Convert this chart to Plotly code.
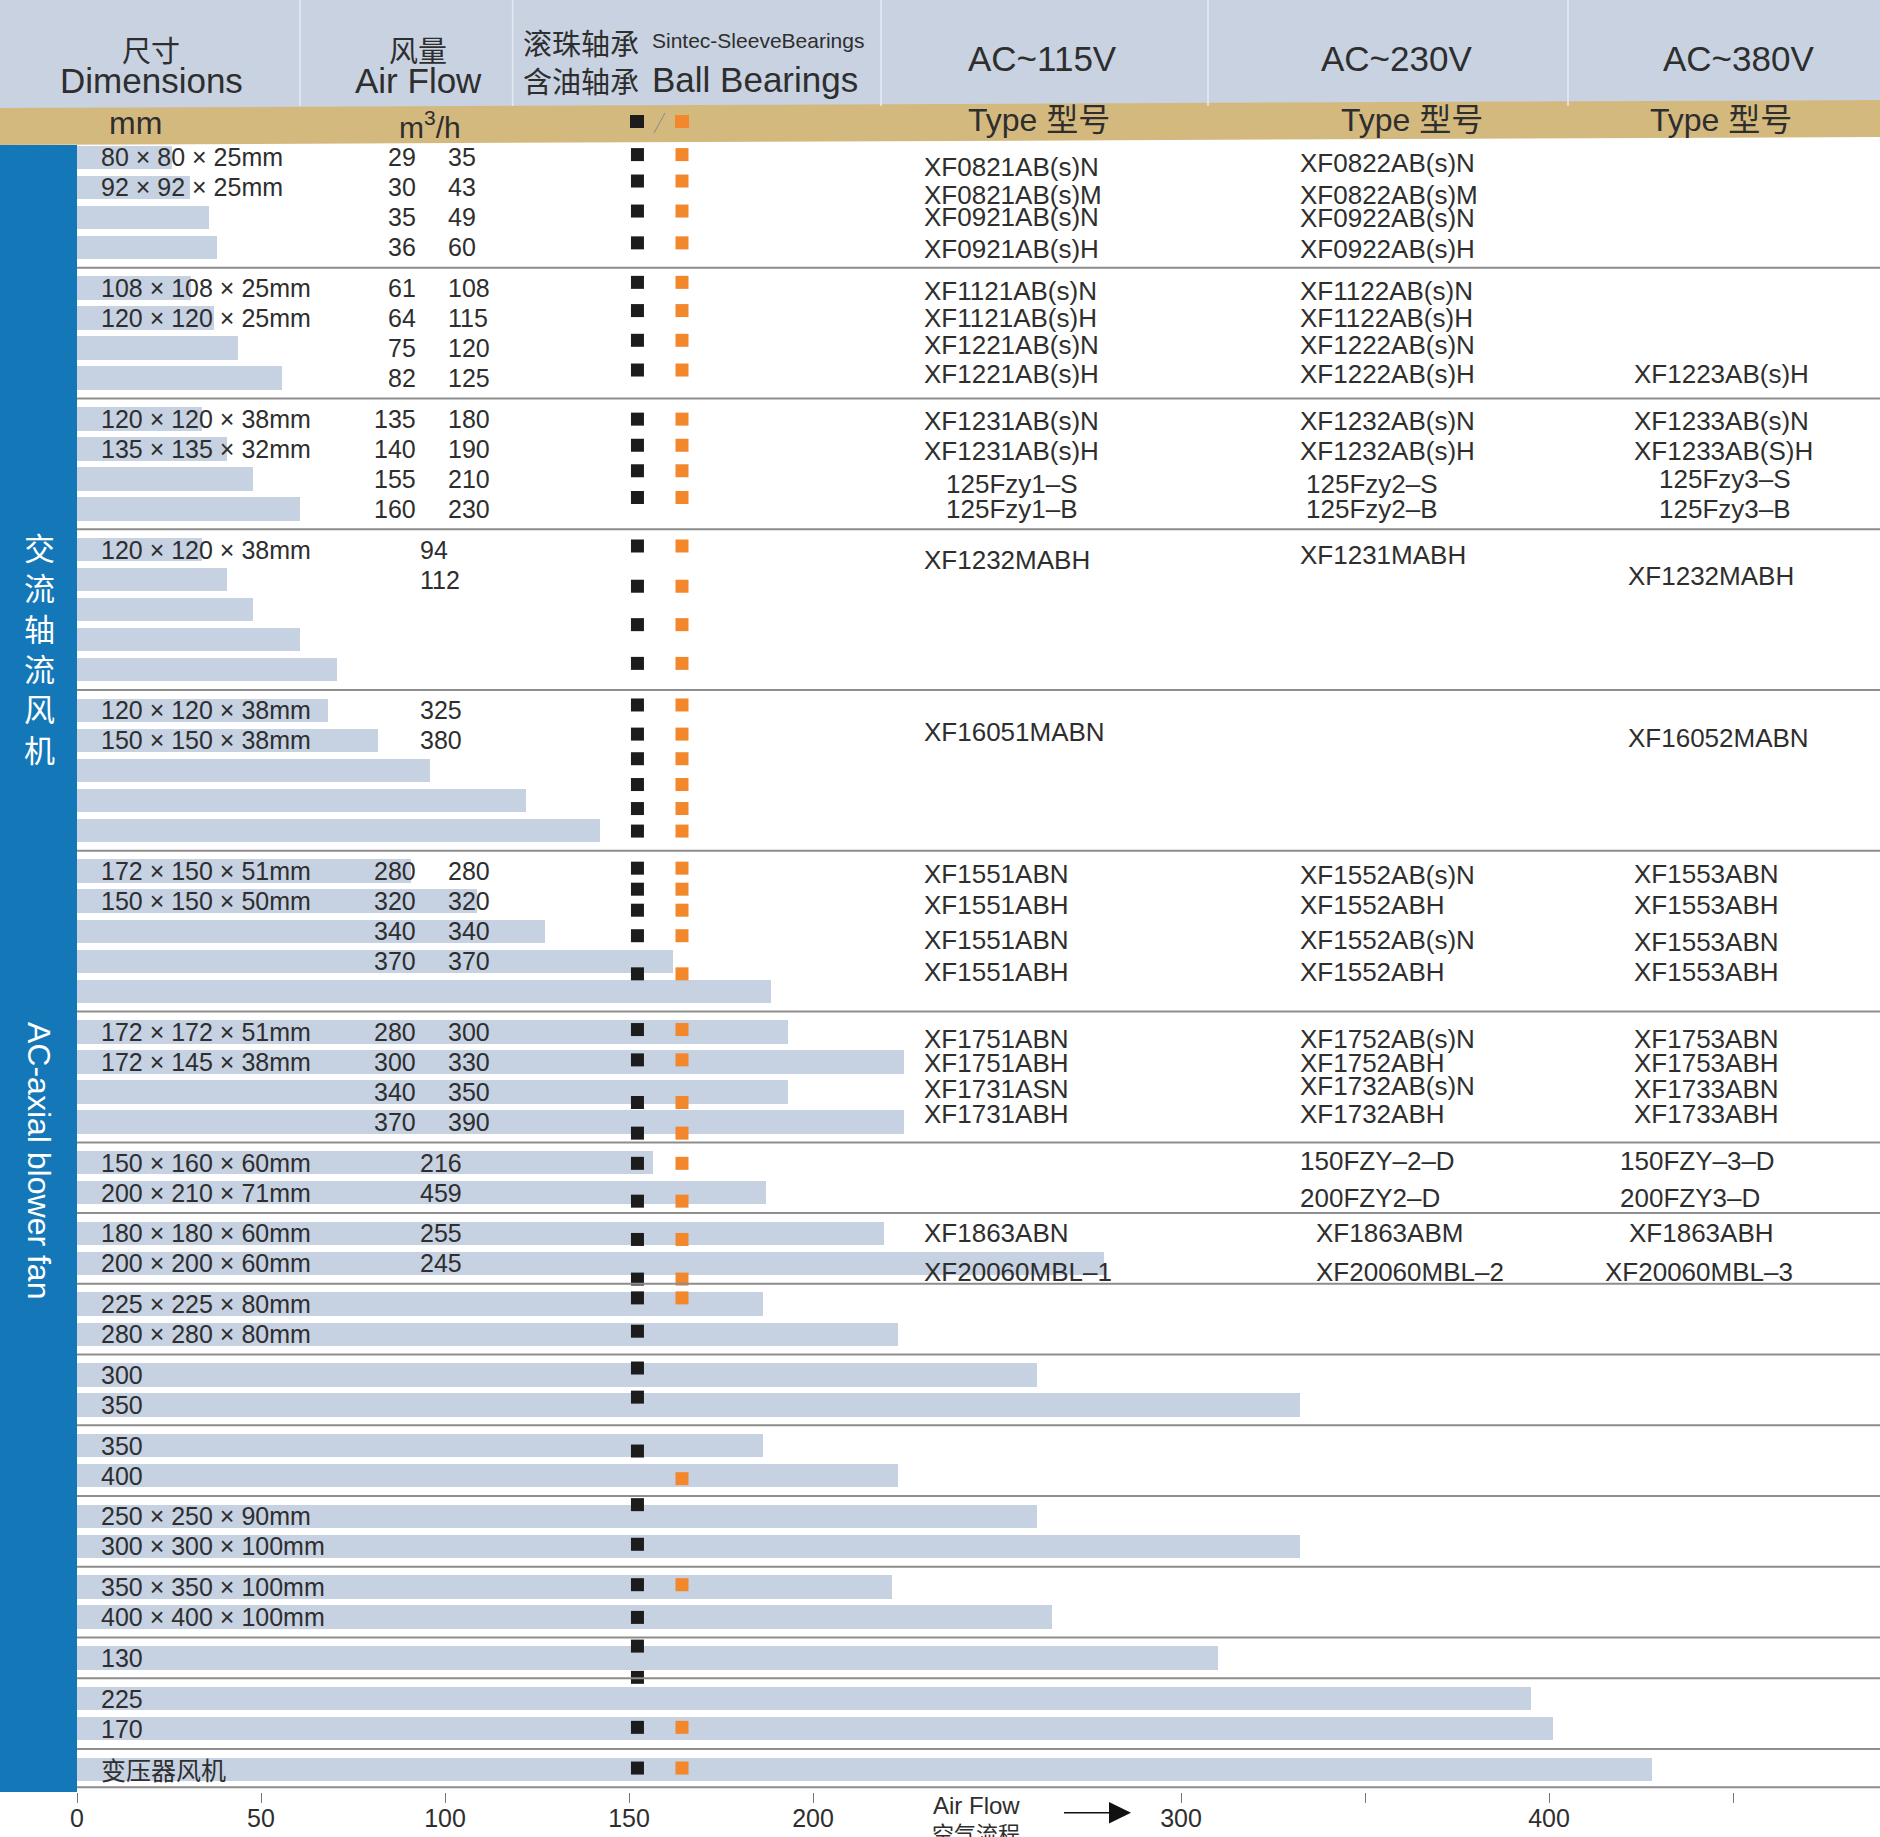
import plotly.graph_objects as go

# ---------------- data ----------------
group_sizes = [4, 4, 4, 5, 5, 5, 4, 2, 2, 2, 2, 2, 2, 2, 1, 2, 1]

bar_values = [
    25.7, 30.7, 36.0, 38.0,
    31.0, 37.3, 43.8, 55.7,
    34.0, 40.8, 47.7, 60.7,
    34.0, 40.8, 47.7, 60.7, 70.7,
    68.2, 81.9, 95.8, 122.0, 142.0,
    90.7, 108.8, 127.2, 162.0, 188.6,
    193.2, 224.8, 193.2, 224.8,
    156.5, 187.3,
    219.2, 279.2,
    186.3, 223.2,
    260.8, 332.2,
    186.3, 223.2,
    260.9, 332.4,
    221.5, 265.0,
    310.1,
    395.0, 401.2,
    428.0,
]

dims = [
    "80 × 80 × 25mm", "92 × 92 × 25mm", "", "",
    "108 × 108 × 25mm", "120 × 120 × 25mm", "", "",
    "120 × 120 × 38mm", "135 × 135 × 32mm", "", "",
    "120 × 120 × 38mm", "", "", "", "",
    "120 × 120 × 38mm", "150 × 150 × 38mm", "", "", "",
    "172 × 150 × 51mm", "150 × 150 × 50mm", "", "", "",
    "172 × 172 × 51mm", "172 × 145 × 38mm", "", "",
    "150 × 160 × 60mm", "200 × 210 × 71mm",
    "180 × 180 × 60mm", "200 × 200 × 60mm",
    "225 × 225 × 80mm", "280 × 280 × 80mm",
    "300", "350",
    "350", "400",
    "250 × 250 × 90mm", "300 × 300 × 100mm",
    "350 × 350 × 100mm", "400 × 400 × 100mm",
    "130",
    "225", "170",
    "变压器风机",
]

flow_lo = [
    "29", "30", "35", "36",
    "61", "64", "75", "82",
    "135", "140", "155", "160",
    "", "", "", "", "",
    "", "", "", "", "",
    "280", "320", "340", "370", "",
    "280", "300", "340", "370",
] + [""] * 18
flow_hi = [
    "35", "43", "49", "60",
    "108", "115", "120", "125",
    "180", "190", "210", "230",
    "", "", "", "", "",
    "", "", "", "", "",
    "280", "320", "340", "370", "",
    "300", "330", "350", "390",
] + [""] * 18
flow_single = [""] * 12 + ["94", "112", "", "", ""] + ["325", "380", "", "", ""] + [""] * 9 + \
    ["216", "459", "255", "245"] + [""] * 14

# bearing markers: group -> local row offsets
black_marks = {
    0: [-0.09, 0.79, 1.79, 2.85], 1: [-0.19, 0.75, 1.74, 2.73], 2: [0.01, 0.88, 1.73, 2.62],
    3: [-0.12, 1.22, 2.5, 3.79], 4: [-0.18, 0.79, 1.61, 2.47, 3.27, 4.02],
    5: [-0.1, 0.6, 1.3, 2.15, 3.42], 6: [-0.08, 0.93, 2.35, 3.37], 7: [0.02, 1.28],
    8: [0.2, 1.52], 9: [-0.21, 0.9], 10: [-0.23, 0.74], 11: [0.18], 12: [-0.39, 0.93],
    13: [-0.08, 1.01], 14: [-0.39, 0.65], 15: [0.96], 16: [-0.04],
}
orange_marks = {
    0: [-0.09, 0.79, 1.79, 2.85], 1: [-0.19, 0.75, 1.74, 2.73], 2: [0.01, 0.88, 1.73, 2.62],
    3: [-0.12, 1.22, 2.5, 3.79], 4: [-0.18, 0.79, 1.61, 2.47, 3.27, 4.02],
    5: [-0.1, 0.6, 1.3, 2.15, 3.42], 6: [-0.08, 0.93, 2.35, 3.37], 7: [0.02, 1.28],
    8: [0.2, 1.52], 9: [-0.21], 11: [1.1], 13: [-0.08], 15: [0.96], 16: [-0.04],
}

# model types: (group, local row, column, text, x shift px)
models = [
    (0, 0.31, 0, "XF0821AB(s)N", 0), (0, 1.26, 0, "XF0821AB(s)M", 0), (0, 2.0, 0, "XF0921AB(s)N", 0), (0, 3.06, 0, "XF0921AB(s)H", 0),
    (0, 0.2, 1, "XF0822AB(s)N", 0), (0, 1.26, 1, "XF0822AB(s)M", 0), (0, 2.02, 1, "XF0922AB(s)N", 0), (0, 3.06, 1, "XF0922AB(s)H", 0),
    (1, 0.11, 0, "XF1121AB(s)N", 0), (1, 1.0, 0, "XF1121AB(s)H", 0), (1, 1.91, 0, "XF1221AB(s)N", 0), (1, 2.85, 0, "XF1221AB(s)H", 0),
    (1, 0.11, 1, "XF1122AB(s)N", 0), (1, 1.0, 1, "XF1122AB(s)H", 0), (1, 1.91, 1, "XF1222AB(s)N", 0), (1, 2.85, 1, "XF1222AB(s)H", 0),
    (1, 2.85, 2, "XF1223AB(s)H", 0),
    (2, 0.06, 0, "XF1231AB(s)N", 0), (2, 1.08, 0, "XF1231AB(s)H", 0), (2, 2.17, 0, "125Fzy1–S", 22), (2, 3.0, 0, "125Fzy1–B", 22),
    (2, 0.06, 1, "XF1232AB(s)N", 0), (2, 1.08, 1, "XF1232AB(s)H", 0), (2, 2.17, 1, "125Fzy2–S", 6), (2, 3.0, 1, "125Fzy2–B", 6),
    (2, 0.06, 2, "XF1233AB(s)N", 0), (2, 1.06, 2, "XF1233AB(S)H", 0), (2, 2.0, 2, "125Fzy3–S", 25), (2, 3.0, 2, "125Fzy3–B", 25),
    (3, 0.33, 0, "XF1232MABH", 0), (3, 0.17, 1, "XF1231MABH", 0), (3, 0.89, 2, "XF1232MABH", -6),
    (4, 0.71, 0, "XF16051MABN", 0), (4, 0.93, 2, "XF16052MABN", -6),
    (5, 0.11, 0, "XF1551ABN", 0), (5, 1.13, 0, "XF1551ABH", 0), (5, 2.3, 0, "XF1551ABN", 0), (5, 3.36, 0, "XF1551ABH", 0),
    (5, 0.13, 1, "XF1552AB(s)N", 0), (5, 1.13, 1, "XF1552ABH", 0), (5, 2.3, 1, "XF1552AB(s)N", 0), (5, 3.36, 1, "XF1552ABH", 0),
    (5, 0.11, 2, "XF1553ABN", 0), (5, 1.13, 2, "XF1553ABH", 0), (5, 2.36, 2, "XF1553ABN", 0), (5, 3.36, 2, "XF1553ABH", 0),
    (6, 0.24, 0, "XF1751ABN", 0), (6, 1.02, 0, "XF1751ABH", 0), (6, 1.91, 0, "XF1731ASN", 0), (6, 2.74, 0, "XF1731ABH", 0),
    (6, 0.24, 1, "XF1752AB(s)N", 0), (6, 1.02, 1, "XF1752ABH", 0), (6, 1.8, 1, "XF1732AB(s)N", 0), (6, 2.74, 1, "XF1732ABH", 0),
    (6, 0.24, 2, "XF1753ABN", 0), (6, 1.02, 2, "XF1753ABH", 0), (6, 1.91, 2, "XF1733ABN", 0), (6, 2.74, 2, "XF1733ABH", 0),
    (7, -0.05, 1, "150FZY–2–D", 0), (7, 1.17, 1, "200FZY2–D", 0),
    (7, -0.05, 2, "150FZY–3–D", -14), (7, 1.17, 2, "200FZY3–D", -14),
    (8, 0.0, 0, "XF1863ABN", 0), (8, 1.28, 0, "XF20060MBL–1", 0),
    (8, 0.0, 1, "XF1863ABM", 16), (8, 1.28, 1, "XF20060MBL–2", 16),
    (8, 0.0, 2, "XF1863ABH", -5), (8, 1.28, 2, "XF20060MBL–3", -29),
]

voltages = ["AC~115V", "AC~230V", "AC~380V"]
tick_vals = [0, 50, 100, 150, 200, 300, 400]
tick_text = ["0", "50", "100", "150", "200", "300", "400"]
minor_tick_vals = [350, 450]

# ---------------- layout constants ----------------
W, H = 1880, 1837
L, R, T, B = 77, 0, 145, 45
PX_PER_UNIT = 3.68
ROW_PX = 30.02
FIRST_ROW_PX = 157.3
GROUP_GAP = 0.356

FONT = "Liberation Sans, Arial, Noto Sans CJK SC, sans-serif"
CJK = "Noto Sans CJK SC, sans-serif"
TXT = "#2e2e2e"
BAR = "#c6d1e2"
BLUE = "#1477b7"
TAN = "#d4b97f"
HEAD = "#c8d2e1"
BLACK = "#1c1c1c"
ORANGE = "#f2872c"
SEP = "#8d8d8d"


def xp(px):
    return (px - L) / (W - L - R)


def yp(py):
    return (H - B - py) / (H - T - B)


def yrow(py):
    return (py - FIRST_ROW_PX) / ROW_PX


# row positions
row_pos, group_start = [], []
count = 0
for k, n in enumerate(group_sizes):
    s = count + GROUP_GAP * k
    group_start.append(s)
    row_pos.extend([s + i for i in range(n)])
    count += n

fig = go.Figure()
fig.add_trace(go.Bar(x=bar_values, y=row_pos, orientation="h", width=0.78,
                     marker=dict(color=BAR, line=dict(width=0)), hoverinfo="skip"))

BLACK_X, ORANGE_X = 152.3, 164.4
by = [group_start[g] + o for g, offs in black_marks.items() for o in offs]
oy = [group_start[g] + o for g, offs in orange_marks.items() for o in offs]
fig.add_trace(go.Scatter(x=[BLACK_X] * len(by), y=by, mode="markers", hoverinfo="skip",
                         marker=dict(symbol="square", size=13, color=BLACK, line=dict(width=0))))
fig.add_trace(go.Scatter(x=[ORANGE_X] * len(oy), y=oy, mode="markers", hoverinfo="skip",
                         marker=dict(symbol="square", size=13, color=ORANGE, line=dict(width=0))))

shapes = []
ann = []

# separators
for k in range(len(group_sizes) - 1):
    yv = group_start[k] + group_sizes[k] - 1 + (1 + GROUP_GAP) / 2
    shapes.append(dict(type="line", xref="paper", yref="y", x0=0, x1=1, y0=yv, y1=yv,
                       line=dict(color=SEP, width=2)))
yb = row_pos[-1] + 0.6
shapes.append(dict(type="line", xref="paper", yref="y", x0=0, x1=1, y0=yb, y1=yb,
                   line=dict(color=SEP, width=2)))

# header backgrounds
shapes.append(dict(type="rect", xref="paper", yref="paper", x0=xp(0), x1=xp(W), y0=yp(0), y1=yp(110),
                   fillcolor=HEAD, line=dict(width=0), layer="below"))
shapes.append(dict(type="path", xref="paper", yref="paper",
                   path=f"M {xp(0)},{yp(108)} L {xp(W)},{yp(100)} L {xp(W)},{yp(137)} L {xp(0)},{yp(145)} Z",
                   fillcolor=TAN, line=dict(width=0), layer="below"))
for sx in [300, 512.6, 881, 1208, 1568]:
    shapes.append(dict(type="line", xref="paper", yref="paper", x0=xp(sx), x1=xp(sx), y0=yp(0), y1=yp(106),
                       line=dict(color="#e6ebf3", width=1.5)))
# sidebar
shapes.append(dict(type="rect", xref="paper", yref="paper", x0=xp(0), x1=xp(77), y0=yp(145), y1=yp(1792),
                   fillcolor=BLUE, line=dict(width=0)))
# legend squares in tan band
shapes.append(dict(type="rect", xref="paper", yref="paper", x0=xp(630), x1=xp(644), y0=yp(115), y1=yp(128),
                   fillcolor=BLACK, line=dict(width=0)))
shapes.append(dict(type="rect", xref="paper", yref="paper", x0=xp(675), x1=xp(689), y0=yp(115), y1=yp(128),
                   fillcolor=ORANGE, line=dict(width=0)))
shapes.append(dict(type="line", xref="paper", yref="paper", x0=xp(665), x1=xp(654), y0=yp(113), y1=yp(133),
                   line=dict(color="#8a8a8a", width=1)))
# air-flow arrow
shapes.append(dict(type="line", xref="paper", yref="paper", x0=xp(1064), x1=xp(1112), y0=yp(1812.7), y1=yp(1812.7),
                   line=dict(color="#111111", width=1.5)))
shapes.append(dict(type="path", xref="paper", yref="paper",
                   path=f"M {xp(1109)},{yp(1802)} L {xp(1131)},{yp(1812.7)} L {xp(1109)},{yp(1823.5)} Z",
                   fillcolor="#111111", line=dict(width=0)))


def a(text, x, y, size, xanchor="center", family=FONT, color=TXT, xref="paper", yref="paper", **kw):
    ann.append(dict(text=text, x=x, y=y, xref=xref, yref=yref, xanchor=xanchor, yanchor="middle",
                    showarrow=False, font=dict(family=family, size=size, color=color), **kw))


# header text
a("尺寸", xp(151), yp(49), 29, family=CJK)
a("Dimensions", xp(151), yp(81), 35)
a("风量", xp(418), yp(49), 29, family=CJK)
a("Air Flow", xp(418), yp(81), 35)
a("滚珠轴承", xp(521), yp(42), 29, xanchor="left", family=CJK)
a("Sintec-SleeveBearings", xp(650), yp(40), 21, xanchor="left")
a("含油轴承", xp(521), yp(80), 29, xanchor="left", family=CJK)
a("Ball Bearings", xp(650), yp(79), 35, xanchor="left")
for v, cx in zip(voltages, [1042, 1396, 1738]):
    a(v, xp(cx), yp(58), 35)
a("mm", xp(135), yp(123), 32)
a("m<sup>3</sup>/h", xp(430), yp(125), 30)
for cx in [1039, 1412, 1721]:
    a("Type 型号", xp(cx), yp(120), 32)

# sidebar
a("<br>".join("交流轴流风机"), xp(39), yp(647), 31, family=CJK, color="white")
a("AC-axial blower fan", xp(39), yp(1160), 32, color="white", textangle=90)

# bottom axis caption
a("Air Flow", xp(976), yp(1805), 24)
a("空气流程", xp(976), yp(1832), 22, family=CJK)

# row texts
DIM_X, LO_X, HI_X = 99, 418, 446
for i, yv in enumerate(row_pos):
    if dims[i]:
        a(dims[i], xp(DIM_X), yv, 25, xanchor="left", yref="y",
          family=CJK if dims[i] == "变压器风机" else FONT)
    if flow_lo[i]:
        a(flow_lo[i], xp(LO_X), yv, 25, xanchor="right", yref="y")
    if flow_hi[i]:
        a(flow_hi[i], xp(HI_X), yv, 25, xanchor="left", yref="y")
    if flow_single[i]:
        a(flow_single[i], xp(LO_X), yv, 25, xanchor="left", yref="y")

COL_X = [922, 1298, 1632]
for g, off, col, text, dx in models:
    a(text, xp(COL_X[col] + dx), group_start[g] + off, 26, xanchor="left", yref="y")

fig.update_layout(
    width=W, height=H, margin=dict(l=L, r=R, t=T, b=B),
    paper_bgcolor="white", plot_bgcolor="white", showlegend=False, bargap=0,
    shapes=shapes, annotations=ann,
    xaxis=dict(range=[0, (W - L - R) / PX_PER_UNIT], tickvals=tick_vals, ticktext=tick_text,
               ticks="outside", ticklen=10, tickwidth=1, tickcolor="#777777",
               ticklabelstandoff=-6,
               minor=dict(tickvals=minor_tick_vals, ticks="outside", ticklen=10, tickwidth=1,
                          tickcolor="#777777", showgrid=False),
               showgrid=False, zeroline=False, showline=False,
               tickfont=dict(family=FONT, size=25, color=TXT)),
    yaxis=dict(range=[yrow(H - B), yrow(T)], visible=False, showgrid=False, zeroline=False),
)

fig.write_html("out.html", config={"displayModeBar": False},
               post_script="document.body.style.margin='0px';document.body.style.overflow='hidden';")
